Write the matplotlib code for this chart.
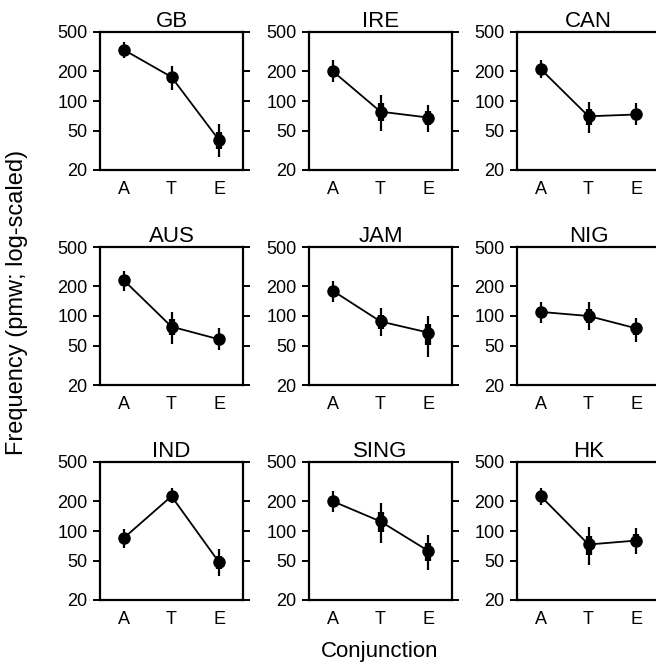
import matplotlib.pyplot as plt
import numpy as np

plt.rcParams['font.family'] = ['Liberation Sans', 'DejaVu Sans']

varieties = ['GB', 'IRE', 'CAN', 'AUS', 'JAM', 'NIG', 'IND', 'SING', 'HK']
conj = ['A', 'T', 'E']

# point estimates (pmw) for A, T, E
est = [
    [330, 175, 40],
    [200, 78, 68],
    [210, 70, 73],
    [230, 78, 58],
    [180, 88, 68],
    [110, 100, 75],
    [85, 225, 48],
    [200, 125, 63],
    [225, 73, 80],
]
# outer interval lower / upper
lo_outer = [
    [270, 130, 27],
    [155, 50, 48],
    [170, 47, 57],
    [180, 52, 45],
    [140, 63, 38],
    [85, 72, 55],
    [67, 190, 35],
    [155, 75, 40],
    [185, 45, 58],
]
hi_outer = [
    [400, 225, 58],
    [260, 115, 92],
    [260, 98, 95],
    [285, 110, 75],
    [225, 120, 100],
    [140, 138, 95],
    [105, 270, 65],
    [255, 190, 92],
    [270, 110, 108],
]

fig = plt.figure(figsize=(6.56, 6.65), dpi=100)
W, H = 656.0, 665.0
lefts = [100, 309, 517]
tops = [32, 247, 462]
pw, ph = 143, 138

for k, name in enumerate(varieties):
    r, c = divmod(k, 3)
    ax = fig.add_axes([lefts[c] / W, 1 - (tops[r] + ph) / H, pw / W, ph / H])
    x = np.arange(1, 4)
    e = np.array(est[k], float)
    lo = np.array(lo_outer[k], float)
    hi = np.array(hi_outer[k], float)
    # inner interval: half of outer on log scale
    ilo = np.exp(np.log(e) - 0.5 * (np.log(e) - np.log(lo)))
    ihi = np.exp(np.log(e) + 0.5 * (np.log(hi) - np.log(e)))
    ax.plot(x, e, color='black', lw=1.3, zorder=2)
    ax.vlines(x, lo, hi, color='black', lw=1.6, zorder=3)
    ax.vlines(x, ilo, ihi, color='black', lw=4.5, zorder=3)
    ax.plot(x, e, 'o', color='black', ms=8, zorder=4)
    ax.set_yscale('log')
    ax.set_ylim(20, 500)
    ax.set_xlim(0.5, 3.5)
    ax.set_yticks([20, 50, 100, 200, 500])
    ax.set_yticklabels(['20', '50', '100', '200', '500'])
    ax.minorticks_off()
    ax.set_xticks(x)
    ax.set_xticklabels(conj)
    ax.tick_params(axis='x', length=0, labelsize=13, pad=8)
    ax.tick_params(axis='y', length=5, width=1.4, labelsize=13, direction='out',
                   right=True, pad=4)
    for s in ax.spines.values():
        s.set_linewidth(1.6)
    ax.set_title(name, fontsize=16, pad=2)

fig.text(17 / W, 1 - 302 / H, 'Frequency (pmw; log-scaled)', rotation=90,
         ha='center', va='center', fontsize=17)
fig.text(380 / W, 1 - 651 / H, 'Conjunction', ha='center', va='center', fontsize=16)

fig.savefig('out.png', dpi=100)
